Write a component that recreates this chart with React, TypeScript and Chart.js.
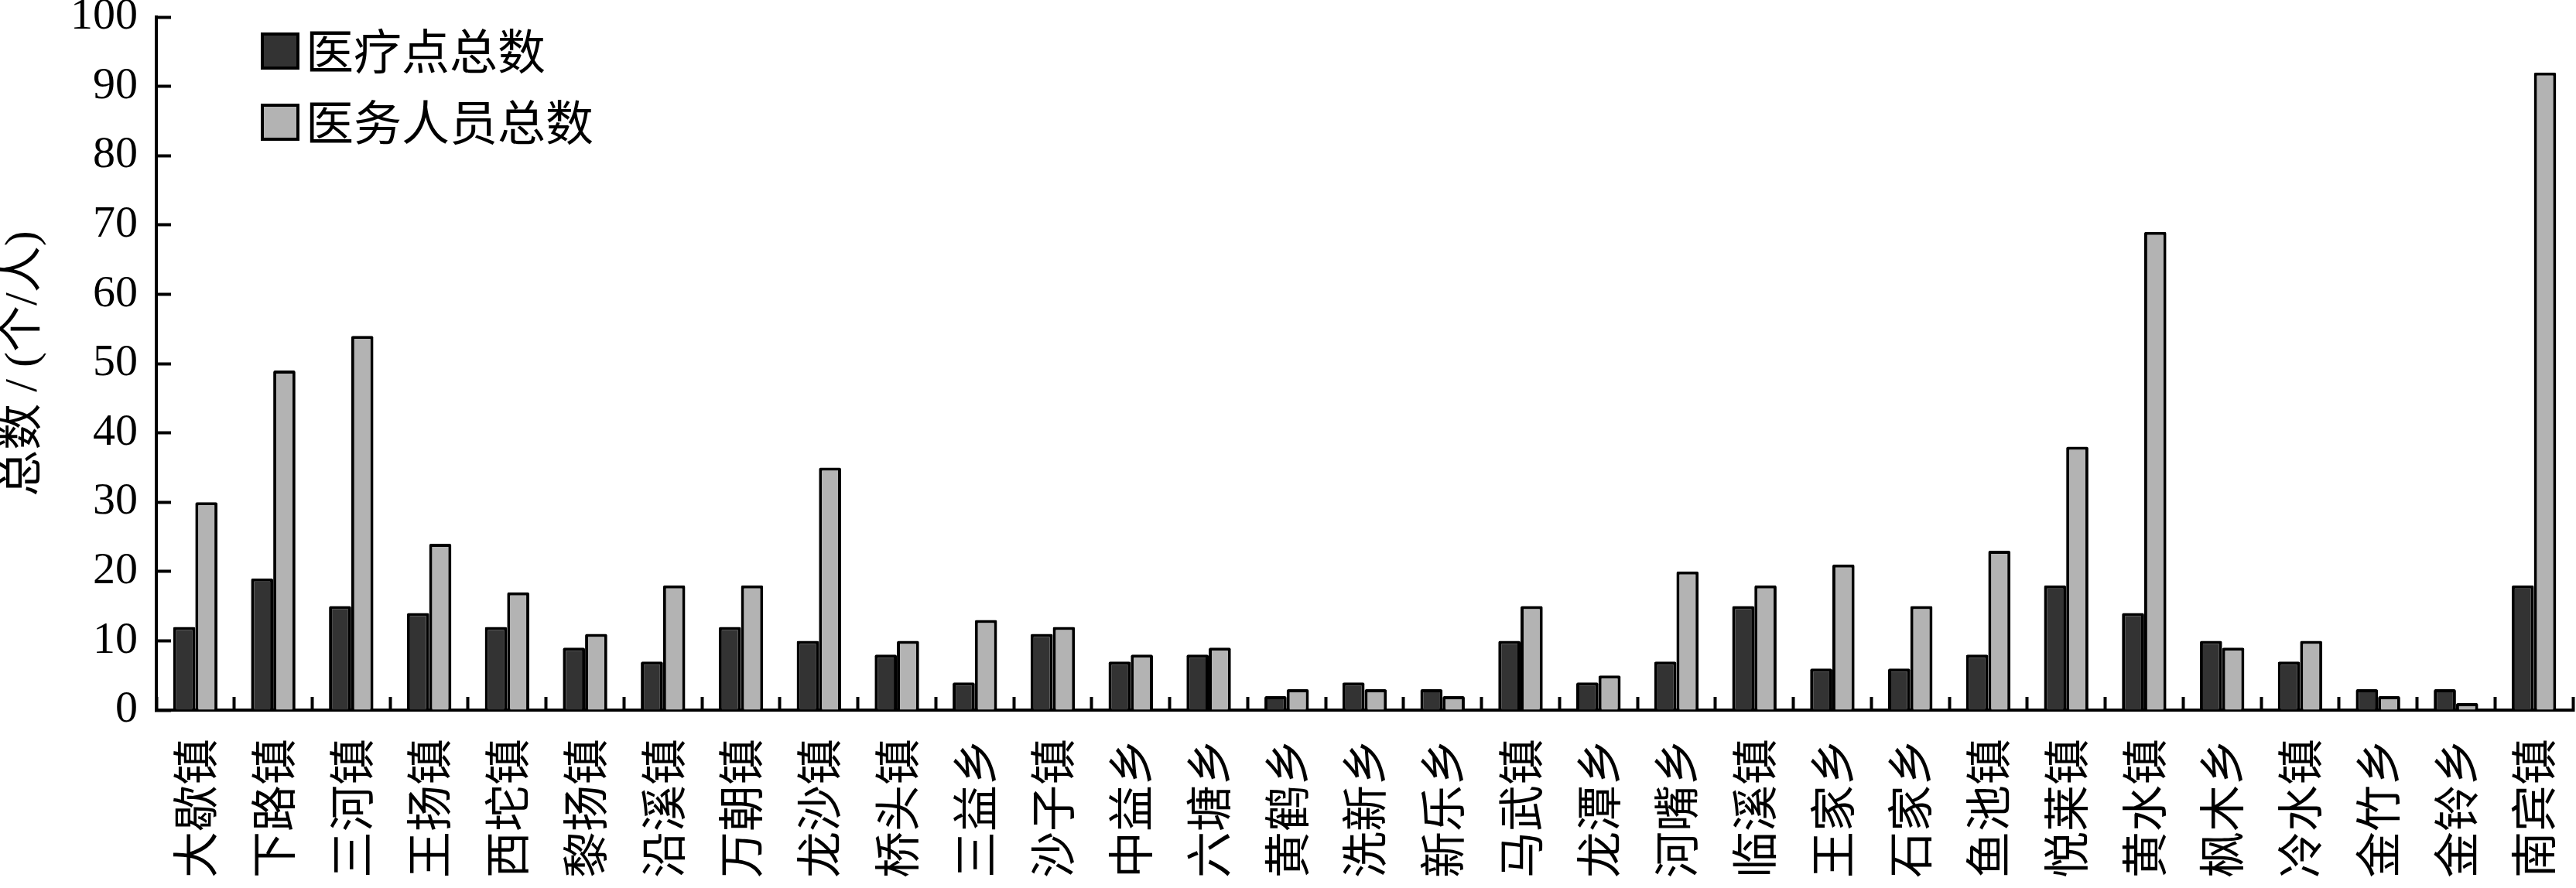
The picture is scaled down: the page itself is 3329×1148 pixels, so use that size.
import React, { useEffect, useRef } from "react";
import { Chart, registerables } from "chart.js";

Chart.register(...registerables);

const categories = [
  "大歇镇", "下路镇", "三河镇", "王扬镇", "西坨镇", "黎扬镇", "沿溪镇", "万朝镇",
  "龙沙镇", "桥头镇", "三益乡", "沙子镇", "中益乡", "六塘乡", "黄鹤乡", "洗新乡",
  "新乐乡", "马武镇", "龙潭乡", "河嘴乡", "临溪镇", "王家乡", "石家乡", "鱼池镇",
  "悦莱镇", "黄水镇", "枫木乡", "冷水镇", "金竹乡", "金铃乡", "南宾镇",
];

const clinicTotals = [
  12, 19, 15, 14, 12, 9, 7, 12, 10, 8, 4, 11, 7, 8, 2, 4,
  3, 10, 4, 7, 15, 6, 6, 8, 18, 14, 10, 7, 3, 3, 18,
];

const staffTotals = [
  30, 49, 54, 24, 17, 11, 18, 18, 35, 10, 13, 12, 8, 9, 3, 3,
  2, 15, 5, 20, 18, 21, 15, 23, 38, 69, 9, 10, 2, 1, 92,
];

const seriesLabels = ["医疗点总数", "医务人员总数"];
const yAxisTitle = "总数 / (个/人)";
const yMin = 0;
const yMax = 100;
const yStep = 10;

const W = 3329;
const H = 1148;

const insideLegend = {
  id: "insideLegend",
  afterDraw(chart: any) {
    const ctx = chart.ctx;
    const { left, top } = chart.chartArea;
    chart.data.datasets.forEach((ds: any, i: number) => {
      const bx = left + 137;
      const by = top + 22 + i * 92;
      ctx.save();
      ctx.fillStyle = ds.backgroundColor;
      ctx.fillRect(bx, by, 46, 44);
      ctx.lineWidth = 4;
      ctx.strokeStyle = "#000";
      ctx.strokeRect(bx, by, 46, 44);
      ctx.fillStyle = "#000";
      ctx.font = '62px "Noto Sans CJK SC"';
      ctx.textBaseline = "middle";
      ctx.textAlign = "left";
      ctx.fillText(ds.label, bx + 56, by + 22);
      ctx.restore();
    });
  },
};

export default function App() {
  const ref = useRef<HTMLCanvasElement | null>(null);

  useEffect(() => {
    document.body.style.margin = "0";
    if (!ref.current) return;
    const chart = new Chart(ref.current, {
      type: "bar",
      data: {
        labels: categories,
        datasets: [
          {
            label: seriesLabels[0],
            data: clinicTotals,
            backgroundColor: "#333333",
            borderColor: "#000000",
            borderWidth: 4,
            borderRadius: 2,
            borderSkipped: "bottom",
            categoryPercentage: 0.57,
            barPercentage: 1.0,
          },
          {
            label: seriesLabels[1],
            data: staffTotals,
            backgroundColor: "#b3b3b3",
            borderColor: "#000000",
            borderWidth: 4,
            borderRadius: 2,
            borderSkipped: "bottom",
            categoryPercentage: 0.57,
            barPercentage: 1.0,
          },
        ],
      },
      options: {
        responsive: false,
        animation: false,
        devicePixelRatio: 1,
        layout: { padding: { left: 0, right: 4, top: 22, bottom: 0 } },
        plugins: {
          legend: { display: false },
          tooltip: { enabled: false },
        },
        scales: {
          x: {
            offset: true,
            grid: {
              display: true,
              offset: true,
              drawOnChartArea: false,
              drawTicks: true,
              tickLength: -17,
              tickWidth: 4,
              tickColor: "#000",
            },
            border: { display: true, width: 4, color: "#000" },
            ticks: {
              autoSkip: false,
              minRotation: 90,
              maxRotation: 90,
              padding: 54,
              color: "#000",
              font: { family: '"Noto Sans CJK SC", sans-serif', size: 60, lineHeight: 1.0 },
            },
            afterFit: (s: any) => {
              s.height = H - 918;
              s.paddingLeft = 0;
              s.paddingRight = 0;
            },
          },
          y: {
            min: yMin,
            max: yMax,
            grid: {
              display: true,
              drawOnChartArea: false,
              drawTicks: true,
              tickLength: -19,
              tickWidth: 4,
              tickColor: "#000",
            },
            border: { display: true, width: 4, color: "#000" },
            ticks: {
              stepSize: yStep,
              padding: 43,
              color: "#000",
              font: { family: '"Liberation Serif", serif', size: 58, lineHeight: 0.8 },
            },
            title: {
              display: true,
              text: yAxisTitle,
              color: "#000",
              padding: 0,
              font: { family: '"Liberation Serif", "Noto Sans CJK SC", serif', size: 60, lineHeight: 1.05 },
            },
            afterFit: (s: any) => {
              s.width = 202;
              s.paddingTop = 0;
              s.paddingBottom = 0;
            },
          },
        },
      },
      plugins: [insideLegend],
    });
    return () => chart.destroy();
  }, []);

  return (
    <div style={{ width: W, height: H, background: "#fff" }}>
      <canvas ref={ref} width={W} height={H} style={{ display: "block", width: W, height: H }} />
    </div>
  );
}
